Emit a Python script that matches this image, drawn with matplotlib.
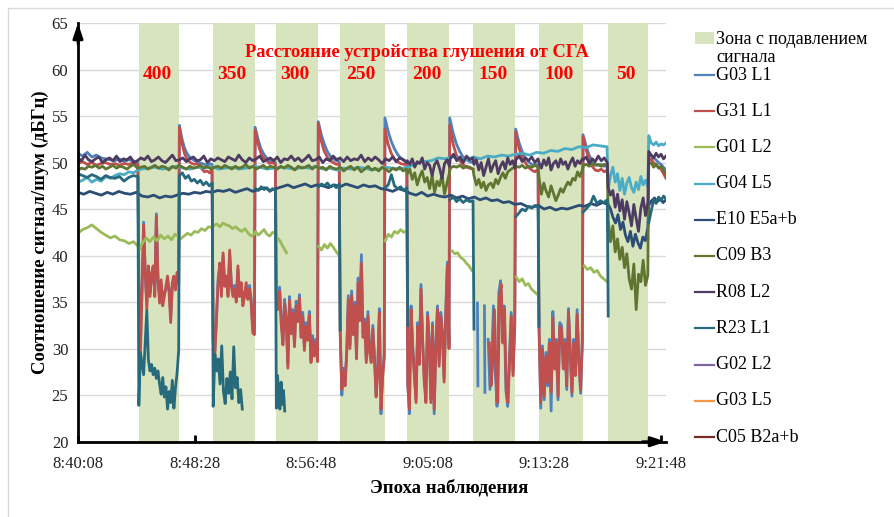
import numpy as np
import matplotlib
matplotlib.use("Agg")
import matplotlib.pyplot as plt
import matplotlib.ticker as ticker
from matplotlib.lines import Line2D
from matplotlib.patches import Rectangle

plt.rcParams['font.family'] = ['Liberation Serif', 'DejaVu Serif']

# time in seconds after 8:40:08
START_SEC = 8*3600 + 40*60 + 8
T_END = 2523

# jamming zones (start, end) and distance of the jammer, m
zones = [(260, 434), (578, 759), (849, 1030), (1123, 1316),
         (1413, 1594), (1697, 1877), (1976, 2166), (2273, 2447)]
distances = ['400', '350', '300', '250', '200', '150', '100', '50']

# each series: segments (t_start, t_end, values); None = break in the line
g03_l1 = [
    (0, 257, [51.0,50.7,51.1,50.6,50.8,50.5,50.4,50.3,50.2,50.4,50.1,50.3,50.2,50.0]),
    (261, 432, [37.0,30.5,36.4,43.6,38.0,34.9,38.5,36.0,37.6,38.4,36.2,44.5,37.3,35.5,36.9,35.2,
                36.1,36.3,37.3,36.5,33.5,36.7,37.3,36.8,37.7,37.0]),
    (435, 575, [54.0,52.6,51.6,51.0,50.6,50.4,50.2,50.1,50.0,49.9,49.8,49.7,49.9,49.8]),
    (580, 757, [31.0,29.8,33.0,37.5,38.8,36.0,40.0,37.0,37.5,36.0,40.2,37.1,36.0,36.8,35.4,38.5,
                36.0,36.7,35.0,36.0,36.7,35.7,36.8,35.4,32.1,31.9]),
    (760, 847, [53.8,52.5,51.5,50.9,50.5,50.2,50.1,50.0]),
    (851, 1028, [35.3,34.6,36.6,33.0,30.8,35.3,33.4,28.3,35.6,32.1,34.2,30.6,35.1,33.3,35.8,31.6,
                 33.9,30.2,32.8,31.3,34.0,28.9,31.4,29.6,31.0,29.0]),
    (1031, 1121, [54.4,53.0,52.0,51.2,50.7,50.4,50.2,50.1]),
    (1125, 1314, [32.0,25.0,27.9,26.4,29.8,35.7,30.4,36.2,31.9,35.0,29.3,37.6,33.4,40.1,31.6,33.2,
                  28.9,34.0,30.0,28.9,32.5,29.3,25.2,27.7,34.3,23.0,27.3,29.4]),
    (1317, 1411, [54.8,53.4,52.3,51.5,50.9,50.5,50.3,50.1]),
    (1415, 1592, [26.4,23.0,34.6,30.3,27.5,24.6,32.8,28.7,36.9,31.0,26.8,24.6,33.9,31.0,24.6,32.8,
                  23.0,30.3,34.6,28.5,33.9,31.8,26.8,33.9,39.3,30.4]),
    (1595, 1695, [54.8,53.2,52.0,51.2,50.6,50.3,50.1,50.0]),
    None,
    (1714, 1716, [34.9, 26.0]),
    None,
    (1744, 1746, [34.6, 25.3]),
    None,
    (1760, 1874, [31.0,25.6,29.0,34.6,27.5,23.8,36.0,37.3,31.0,34.6,25.7,23.8,29.3,33.9,27.5,32.8]),
    (1878, 1974, [53.6,52.2,51.2,50.5,50.1,49.8,49.7,49.8]),
    (1978, 2164, [32.8,23.6,30.3,24.5,29.6,26.0,31.0,23.3,34.0,28.2,31.0,24.5,32.8,32.5,28.2,31.0,
                  25.6,34.3,30.0,24.9,31.0,27.5,34.2,28.9,25.2,31.0]),
    (2167, 2271, [53.0,51.8,50.8,50.2,49.8,49.7,49.8,49.6,49.7]),
    None,
    (2448, 2523, [50.6,50.8,50.5,50.3,50.0,49.8,49.5,49.2]),
]

g31_l1 = [
    (0, 257, [49.9,50.1,49.8,50.0,49.7,49.9,50.0,49.8,49.9,49.7,49.9,49.8,50.0,49.8]),
    (261, 432, [37.4,29.6,36.0,43.3,38.5,34.2,38.9,35.6,38.1,38.9,35.6,44.2,37.8,34.9,37.4,34.6,
                35.6,36.7,37.8,36.0,32.8,37.1,37.8,36.3,38.2,37.4]),
    (435, 575, [53.8,52.1,51.0,50.4,50.1,49.9,49.8,49.9,49.7,49.3,49.0,49.1,48.9,49.2]),
    (580, 757, [30.6,29.2,33.5,37.1,39.2,35.6,40.3,36.7,37.8,35.6,40.6,36.7,35.6,36.4,35.0,38.9,
                35.6,37.1,34.6,35.6,37.1,35.3,36.4,35.0,31.7,31.5]),
    (760, 847, [53.5,52.0,51.0,50.5,50.2,49.9,50.0,49.8]),
    (851, 1028, [34.9,34.2,36.2,32.5,30.4,34.8,33.0,27.9,35.2,31.6,33.8,30.2,34.6,32.9,35.4,31.2,
                 33.5,29.8,32.4,30.9,33.6,28.5,31.0,29.2,30.6,28.6]),
    (1031, 1121, [54.2,52.3,51.2,50.6,50.2,50.0,49.8,49.9]),
    (1125, 1314, [31.7,25.6,27.5,26.0,29.4,35.3,30.0,35.7,31.5,34.6,28.9,37.1,33.0,39.2,31.2,32.8,
                  28.5,33.5,29.6,28.5,32.1,28.9,24.8,27.3,33.9,23.5,26.9,29.0]),
    (1317, 1411, [53.6,52.0,51.0,50.4,50.1,49.9,49.8,49.9]),
    (1415, 1592, [26.0,23.5,34.2,29.9,27.1,24.2,32.4,28.3,36.4,30.6,26.4,24.2,33.5,30.6,24.2,32.4,
                  23.5,29.9,34.2,28.1,33.5,31.4,26.4,33.5,38.9,30.0]),
    (1595, 1695, [54.0,52.0,50.8,50.2,49.8,49.5,49.4,49.3]),
    None,
    (1765, 1874, [30.6,26.0,28.6,34.2,27.1,24.2,35.6,36.9,30.6,34.2,25.3,24.2,28.9,33.5,27.1,32.4]),
    (1878, 1974, [53.3,51.6,50.6,50.0,49.5,49.2,49.0,49.3]),
    (1978, 2164, [32.4,24.2,29.9,24.9,29.2,26.4,30.6,25.3,33.3,27.8,30.6,24.9,32.4,32.1,27.8,30.6,
                  26.0,33.9,29.6,25.3,30.6,27.1,33.7,28.5,25.6,30.6]),
    (2167, 2271, [52.8,51.4,50.3,49.6,49.2,49.1,49.3,49.0,49.2]),
    None,
    (2448, 2523, [50.2,50.4,50.0,49.8,49.5,49.3,48.8,48.3]),
]

g01_l2 = [
    (0, 258, [42.4,42.8,43.0,43.3,42.9,42.5,42.2,41.9,42.1,41.7,41.6,41.3,41.5,41.0]),
    (262, 432, [40.6,41.4,41.9,41.5,42.0,41.6,42.2,41.8,42.1,41.7,42.3,42.0]),
    (440, 575, [41.8,42.1,42.4,42.2,42.6,42.5,42.9,42.7,43.1,43.0]),
    (582, 757, [43.2,43.4,43.1,43.5,43.3,43.2,42.9,43.1,42.8,42.6,42.9,42.4,42.1,42.3]),
    (762, 847, [42.6,42.2,42.5,42.8,42.3,42.1,42.5,42.4]),
    (852, 895, [42.0,41.6,40.9,40.3]),
    None,
    (1032, 1121, [41.0,40.6,41.2,40.8,41.3,40.9,40.4,40.0]),
    None,
    (1318, 1411, [41.6,42.3,42.0,42.6,42.4,42.8,42.5,42.7]),
    None,
    (1605, 1690, [40.5,40.2,40.3,39.8,39.6,39.2,38.9,38.4]),
    None,
    (1880, 1972, [37.7,37.2,37.5,36.8,37.0,36.4,36.1,35.8]),
    None,
    (2172, 2270, [38.9,38.5,38.7,38.2,38.4,37.8,37.5,37.2]),
]

g04_l5 = [
    (0, 258, [47.9,48.1,48.4,47.9,48.2,48.0,48.5,48.3,48.6,48.8,48.7,49.0,48.9,49.2]),
    (272, 1410, [49.3,49.4,49.5,49.3,49.4,49.6,49.4,49.3,49.5,49.4,49.6,49.3,49.4,49.5,49.3,49.4,
                 49.6,49.5,49.3,49.4,49.5,49.4,49.3,49.5,49.4,49.6,49.3,49.4,49.2,49.4,49.3,49.5,
                 49.4,49.2,49.3,49.5,49.4,49.3,49.5]),
    (1425, 2270, [49.6,49.9,50.1,50.2,50.5,50.4,50.6,50.5,50.3,50.6,50.4,50.7,50.6,50.8,50.7,50.9,
                  51.0,50.8,51.1,51.0,51.3,51.2,51.5,51.4,51.7,51.6,51.9,51.8,51.7]),
    (2275, 2445, [47.2,48.6,49.5,47.9,48.8,47.0,48.3,46.6,47.8,48.4,47.3,46.8,47.9,47.1,48.5,47.6,
                  48.1,47.4]),
    (2449, 2523, [52.9,52.1,51.9,52.2,51.8,52.0,51.9,52.1]),
]

e10_e5ab = [
    (0, 2275, [46.8,46.6,46.9,46.7,46.5,46.8,46.6,46.9,46.7,46.6,46.8,
               46.4,46.3,46.5,46.2,46.4,46.3,46.5,
               46.7,46.6,46.8,46.7,46.9,46.8,
               47.0,46.9,47.1,46.8,47.0,47.2,46.9,
               47.1,47.3,47.0,47.2,
               47.4,47.6,47.3,47.5,47.7,47.4,47.6,47.5,47.3,47.6,47.4,47.7,47.5,47.3,47.6,47.4,47.5,47.2,
               47.1,46.9,47.2,47.0,
               46.7,46.5,46.8,46.4,46.6,
               46.4,46.3,46.5,46.2,46.4,46.1,46.3,46.0,46.2,
               45.9,46.0,45.7,45.8,45.5,45.6,
               45.3,45.2,45.4,45.0,45.2,44.9,45.1,45.0,
               45.2,45.4,45.3,45.6,45.4,45.7,45.5]),
    (2285, 2445, [45.0,44.1,43.5,44.4,42.8,43.6,42.2,41.5,42.6,41.0,42.3,41.4,40.8,42.0,41.6,43.0]),
    (2449, 2523, [45.4,45.9,46.2,45.8,46.1,45.7,46.0]),
]

c09_b3 = [
    (0, 1410, [49.2,49.4,49.3,49.6,49.5,49.7,49.4,49.6,49.3,49.5,49.7,49.4,49.6,49.5,49.3,49.6,49.8,49.4,49.5,49.6,
               49.3,49.5,49.7,49.4,49.6,49.5,49.2,49.6,49.4,49.7,49.5,49.3,49.6,49.4,49.5,49.7,49.4,49.6,49.3,49.5,
               49.6,49.4,49.7,49.5,49.3,49.6,49.4,49.5,49.8,49.4,49.6,49.3,49.5,49.7,49.4,49.6,49.5,49.3,49.6,49.4,
               49.7,49.5,49.2,49.6,49.4,49.5,49.7,49.3,49.6,49.4,49.5,49.2,49.6,49.4,49.3,49.5,49.1,49.4,49.6,49.2,
               49.5,49.0,49.3,49.6,49.2,49.4,49.1,49.5,49.3,49.0,49.4,49.2,49.5,49.1,49.3]),
    (1413, 1594, [48.8,49.3,48.2,48.9,47.6,48.5,49.1,47.9,48.4,47.2,48.6,46.8,48.0,47.5,48.7,46.6,47.8,48.9]),
    (1597, 1695, [49.4,49.6,49.5,49.7,49.4,49.6,49.5,49.3]),
    (1699, 1875, [48.6,47.6,48.2,47.3,47.9,47.0,47.6,47.8,47.3,48.2,47.7,48.4,48.9,48.3,49.0,49.2,49.4,49.5]),
    (1879, 1974, [49.6,49.5,49.7,49.4,49.6,49.5,49.7,49.5]),
    (1978, 2164, [48.4,46.6,47.8,46.9,46.3,47.5,46.7,45.9,46.5,47.2,46.8,47.4,47.9,47.6,48.3,48.1,49.0,48.5,49.2]),
    (2168, 2271, [49.7,49.8,49.6,49.9,49.7,49.8,49.6,49.8,49.7]),
    (2275, 2445, [43.8,41.5,43.2,40.4,41.8,39.6,40.9,38.7,40.2,37.5,36.4,39.1,34.2,38.0,37.2,39.5,36.8,37.9]),
    (2449, 2523, [49.8,50.0,49.5,49.8,49.4,49.6,49.2,48.7]),
]

r08_l2 = [
    (0, 1410, [50.5,50.2,50.8,50.3,50.1,50.4,50.6,50.0,50.3,50.5,50.2,50.7,50.1,50.4,50.3,50.6,50.0,50.2,50.5,50.3,
               50.7,50.1,50.3,50.6,50.2,50.0,50.4,50.8,50.2,50.3,50.5,50.1,50.4,50.6,50.2,50.3,50.7,50.0,50.4,50.2,
               50.5,50.3,50.1,50.6,50.4,50.2,50.8,50.3,50.0,50.5,50.2,50.4,50.7,50.1,50.3,50.5,50.2,50.6,50.0,50.4,
               50.3,50.7,50.2,50.5,50.1,50.4,50.8,50.2,50.3,50.6,50.0,50.4,50.2,50.7,50.3,50.5,50.1,50.6,50.2,50.4,
               50.3,50.8,50.1,50.5,50.2,50.6,50.3,49.9,50.4,50.2,50.6,50.1,50.5,50.3,50.0]),
    (1413, 1594, [50.2,49.8,50.4,49.5,50.1,49.9,50.5,49.3,50.0,49.7,48.6,49.8,50.2,49.4,48.3,49.9,50.3,49.6]),
    (1597, 1695, [50.4,50.9,50.2,50.6,50.0,50.7,50.3,50.5]),
    (1699, 1875, [49.8,50.3,49.2,50.0,48.6,49.5,50.4,49.0,49.7,50.2,48.8,49.6,50.1,49.3,50.5,49.8,50.2,49.4]),
    (1879, 1974, [50.3,50.7,50.1,50.5,50.2,50.6,50.0,50.4]),
    (1978, 2164, [50.0,49.4,50.3,49.7,50.5,49.2,49.9,50.2,49.5,50.4,49.8,50.1,49.3,50.0,50.5,49.6,50.2,49.9,50.4]),
    (2168, 2271, [50.3,50.6,49.9,50.4,50.1,50.7,50.2,50.5,50.0]),
    (2275, 2445, [47.3,46.5,47.0,45.2,46.6,44.8,46.0,43.9,45.8,44.6,43.2,45.5,44.0,42.6,45.1,46.2,44.3,45.7]),
    (2449, 2523, [51.2,50.8,50.5,51.0,50.6,50.9,50.4,50.7]),
]

r23_l1 = [
    (0, 257, [48.8,48.6,48.4,48.7,48.5,48.2,48.6,48.4,48.3,48.5,48.0,48.4,48.6,48.5]),
    (261, 432, [23.9,29.6,28.4,27.2,30.6,34.1,28.8,27.6,28.3,27.2,27.9,26.8,27.6,26.2,25.1,26.9,
                24.8,25.9,23.5,25.4,24.2,26.6,23.6,25.8,27.4,29.8]),
    (435, 576, [48.6,48.9,48.3,48.6,48.0,48.2,47.8,48.1,47.6,47.9,47.5,47.8]),
    (580, 705, [23.8,29.4,27.6,28.9,26.2,30.3,25.4,24.1,26.8,25.2,27.5,24.6,30.2,25.8,26.9,24.2,25.6,23.5]),
    None,
    (762, 847, [47.2,47.0,47.4,47.1,47.3,46.9,47.2,47.0]),
    (851, 887, [23.6,27.1,25.2,23.5,26.4,24.0,25.5,23.3]),
    None,
    (1032, 1121, [47.4,47.7,47.5,47.8,47.4,47.6,47.3,47.7]),
    (1125, 1125, [32.0]),
    None,
    (1318, 1411, [47.3,47.6,48.7,47.5,47.2,47.4,47.0,47.3]),
    (1415, 1415, [32.5]),
    None,
    (1596, 1695, [46.0,46.3,45.8,46.1,45.7,46.0,45.8,45.9]),
    (1699, 1699, [32.1]),
    None,
    (1879, 1974, [44.2,44.6,45.0,44.8,45.3,45.1,45.4,45.2]),
    (1978, 1978, [32.4]),
    None,
    (2168, 2271, [44.7,45.1,45.5,46.4,45.6,45.9,45.7,46.0]),
    (2275, 2275, [33.5]),
    None,
    (2449, 2523, [43.5,44.8,46.0,45.6,46.3,45.9,46.4,46.1]),
]

# no visible data for these three
g02_l2 = []
g03_l5 = []
c05_b2ab = []

series_names = ['G03 L1', 'G31 L1', 'G01 L2', 'G04 L5', 'E10 E5a+b', 'C09 B3',
                'R08 L2', 'R23 L1', 'G02 L2', 'G03 L5', 'C05 B2a+b']
series_data = [g03_l1, g31_l1, g01_l2, g04_l5, e10_e5ab, c09_b3,
               r08_l2, r23_l1, g02_l2, g03_l5, c05_b2ab]
series_colors = ['#4F81BD', '#C0504D', '#9BBB59', '#4BACC6', '#2C4D75', '#5F7530',
                 '#4D3B62', '#276A7C', '#8064A2', '#F79646', '#772C2A']


def build(segs):
    ts, vs = [], []
    for s in segs:
        if s is None:
            ts.append(np.nan)
            vs.append(np.nan)
            continue
        t0, t1, vals = s
        ts.extend(np.linspace(t0, t1, len(vals)))
        vs.extend(vals)
    return np.array(ts, dtype=float), np.array(vs, dtype=float)


def fmt_time(t, pos):
    total = START_SEC + int(round(t))
    return f"{total // 3600}:{(total % 3600) // 60:02d}:{total % 60:02d}"


fig = plt.figure(figsize=(8.95, 5.17), dpi=100)
ax = fig.add_axes([78/895, 1 - 441.7/517, (666 - 78)/895, (441.7 - 23)/517])

# chart frame
fig.add_artist(Rectangle((8/895, -0.1), 1.2, 1 - 8/517 + 0.1, transform=fig.transFigure,
                         fill=False, ec='#d9d9d9', lw=1))

for z0, z1 in zones:
    ax.axvspan(z0, z1, color='#d7e4bd', lw=0, zorder=1)

for name, segs, col in zip(series_names, series_data, series_colors):
    t, v = build(segs)
    ax.plot(t, v, color=col, lw=2.0, zorder=3, solid_joinstyle='round')

ax.set_xlim(0, T_END)
ax.set_ylim(20, 65)
ax.yaxis.set_major_locator(ticker.MultipleLocator(5))
ax.xaxis.set_major_locator(ticker.MultipleLocator(500))
ax.xaxis.set_major_formatter(ticker.FuncFormatter(fmt_time))
ax.grid(axis='y', color='#d9d9d9', lw=1, zorder=0)
ax.set_axisbelow(True)

for sp in ['top', 'right']:
    ax.spines[sp].set_visible(False)
for sp in ['left', 'bottom']:
    ax.spines[sp].set_linewidth(2)
    ax.spines[sp].set_color('black')
    ax.spines[sp].set_zorder(5)

ax.tick_params(axis='y', length=0, pad=7, labelsize=12, labelcolor='#222222')
ax.tick_params(axis='x', direction='in', length=5, width=2, pad=10, labelsize=12,
               labelcolor='#222222')

arrow = dict(arrowstyle='-|>,head_length=0.9,head_width=0.3', color='black', lw=2,
             shrinkA=0, shrinkB=0)
ax.annotate('', xy=(0, 1.0), xytext=(0, 0.95), xycoords='axes fraction', arrowprops=arrow,
            annotation_clip=False)
ax.annotate('', xy=(1.0, 0), xytext=(0.96, 0), xycoords='axes fraction', arrowprops=arrow,
            annotation_clip=False)

# red annotations
ax.text(0.577, 61.8, 'Расстояние устройства глушения от СГА',
        transform=ax.get_yaxis_transform(),
        color='#ff0000', fontsize=13.3, fontweight='bold', ha='center', va='center')
for (z0, z1), d in zip(zones, distances):
    ax.text((z0 + z1) / 2 - 8, 59.5, d, color='#ff0000', fontsize=14, fontweight='bold',
            ha='center', va='center')

fig.text(40/895, 1 - 232/517, 'Соотношение сигнал/шум (дБГц)', rotation=90, fontsize=13.5,
         fontweight='bold', ha='center', va='center')
fig.text(449/895, 1 - 488/517, 'Эпоха наблюдения', fontsize=13.5, fontweight='bold',
         ha='center', va='center')

# legend on the right
lx0, lx1, tx = 695/895, 714/895, 716/895
fig.add_artist(Rectangle((lx0, 1 - 44/517), lx1 - lx0, 12/517, transform=fig.transFigure,
                         color='#d7e4bd', lw=0))
fig.text(tx, 1 - 39/517, 'Зона с подавлением', fontsize=13, va='center')
fig.text(tx, 1 - 57/517, 'сигнала', fontsize=13, va='center')
for i, (name, col) in enumerate(zip(series_names, series_colors)):
    y = 1 - (75 + i * 36.2) / 517
    fig.add_artist(Line2D([lx0, lx1], [y, y], transform=fig.transFigure, color=col, lw=1.6))
    fig.text(tx, y, name, fontsize=13, va='center')

fig.savefig('out.png', dpi=100, facecolor='white')
